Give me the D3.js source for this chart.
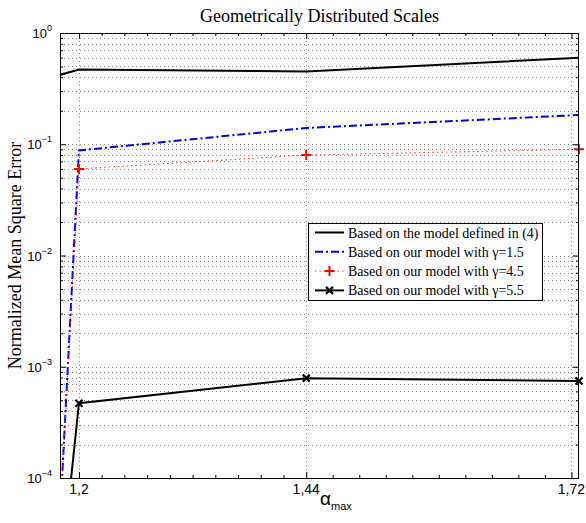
<!DOCTYPE html>
<html>
<head>
<meta charset="UTF-8">
<title>Geometrically Distributed Scales</title>
<script src="https://d3js.org/d3.v7.min.js"></script>
<style>
  body { margin: 0; background: #fff; }
  svg { display: block; }
  .serif { font-family: "Liberation Serif", "Times New Roman", serif; }
  .sans { font-family: "Liberation Sans", Arial, sans-serif; }
</style>
</head>
<body>
<div id="chart"></div>
<script>
// data
var alphaMax = [1.18, 1.2, 1.44, 1.728];
var modelRef = [0.42, 0.47, 0.45, 0.6];          // model defined in (4)
var gamma15 = [4.3e-5, 0.088, 0.14, 0.183];
var gamma45 = [4.5e-5, 0.06, 0.08, 0.09];
var gamma55 = [1.1e-5, 4.7e-4, 7.9e-4, 7.45e-4];

var xTicks = [1.2, 1.44, 1.72];
var xTickLabels = ["1,2", "1,44", "1,72"];
var yDecades = [1e-4, 1e-3, 1e-2, 1e-1, 1e0];
var yExponents = ["\u22124", "\u22123", "\u22122", "\u22121", "0"];
var legendLabels = [
  "Based on the model defined in (4)",
  "Based on our model with \u03b3=1.5",
  "Based on our model with \u03b3=4.5",
  "Based on our model with \u03b3=5.5"
];

var W = 586, H = 523;
var margin = { top: 33, right: 7, bottom: 45, left: 60 };
var width = W - margin.left - margin.right;
var height = H - margin.top - margin.bottom;

var svg = d3.select("#chart").append("svg")
  .attr("width", W).attr("height", H);

var g = svg.append("g")
  .attr("transform", "translate(" + margin.left + "," + margin.top + ")");

var x = d3.scaleLinear().domain([1.18, 1.728]).range([0, width]);
var y = d3.scaleLog().domain([1e-4, 1]).range([height, 0]);

// minor values
var yMinor = [];
yDecades.slice(0, -1).forEach(function (d) {
  for (var k = 2; k <= 9; k++) yMinor.push(d * k);
});
var xMinor = [];
for (var i = 1; i < 10; i++) xMinor.push(1.2 + 0.024 * i);
for (var j = 1; j < 10; j++) xMinor.push(1.44 + 0.028 * j);

// grid
var grid = g.append("g").attr("stroke", "#888").attr("stroke-width", 1)
  .attr("stroke-dasharray", "1,3");
grid.selectAll(".hg").data(yMinor.concat(yDecades.slice(1, -1))).enter()
  .append("line")
  .attr("x1", 0).attr("x2", width)
  .attr("y1", function (d) { return Math.round(y(d)) + 0.5; })
  .attr("y2", function (d) { return Math.round(y(d)) + 0.5; });
grid.selectAll(".vg").data(xTicks).enter()
  .append("line")
  .attr("y1", 0).attr("y2", height)
  .attr("x1", function (d) { return Math.round(x(d)) + 0.5; })
  .attr("x2", function (d) { return Math.round(x(d)) + 0.5; });

// ticks (inward) on all four sides
function axisStyle(sel) {
  sel.select(".domain").remove();
  sel.selectAll(".tick line").attr("stroke", "#000");
  sel.selectAll(".tick text").remove();
}
g.append("g").attr("transform", "translate(0," + height + ")")
  .call(d3.axisBottom(x).tickValues(xTicks).tickSize(-6)).call(axisStyle);
g.append("g").attr("transform", "translate(0," + height + ")")
  .call(d3.axisBottom(x).tickValues(xMinor).tickSize(-3)).call(axisStyle);
g.append("g")
  .call(d3.axisTop(x).tickValues(xTicks).tickSize(-6)).call(axisStyle);
g.append("g")
  .call(d3.axisTop(x).tickValues(xMinor).tickSize(-3)).call(axisStyle);
g.append("g")
  .call(d3.axisLeft(y).tickValues(yDecades).tickSize(-6)).call(axisStyle);
g.append("g")
  .call(d3.axisLeft(y).tickValues(yMinor).tickSize(-3)).call(axisStyle);
g.append("g").attr("transform", "translate(" + width + ",0)")
  .call(d3.axisRight(y).tickValues(yDecades).tickSize(-6)).call(axisStyle);
g.append("g").attr("transform", "translate(" + width + ",0)")
  .call(d3.axisRight(y).tickValues(yMinor).tickSize(-3)).call(axisStyle);

// clip for data
g.append("clipPath").attr("id", "clip").append("rect")
  .attr("width", width).attr("height", height);
var plot = g.append("g").attr("clip-path", "url(#clip)");

function pts(vals) {
  return alphaMax.map(function (a, i) { return [a, vals[i]]; });
}
var line = d3.line().x(function (d) { return x(d[0]); }).y(function (d) { return y(d[1]); });

var series = [
  { vals: modelRef, color: "#000", width: 2, dash: null, marker: null },
  { vals: gamma15, color: "#0000ff", width: 2, dash: "8,3,2,3", marker: null },
  { vals: gamma45, color: "#ff3030", width: 1, dash: "1.5,3", marker: "plus" },
  { vals: gamma55, color: "#000", width: 2, dash: null, marker: "cross" }
];

function drawMarker(sel, type, color, cx, cy) {
  if (type === "plus") {
    sel.append("path")
      .attr("d", "M" + (cx - 5) + "," + cy + "H" + (cx + 5) + "M" + cx + "," + (cy - 5) + "V" + (cy + 5))
      .attr("stroke", "#ff0000").attr("stroke-width", 2).attr("fill", "none");
  } else if (type === "cross") {
    sel.append("path")
      .attr("d", "M" + (cx - 3.5) + "," + (cy - 3.5) + "L" + (cx + 3.5) + "," + (cy + 3.5) +
        "M" + (cx - 3.5) + "," + (cy + 3.5) + "L" + (cx + 3.5) + "," + (cy - 3.5))
      .attr("stroke", color).attr("stroke-width", 2.2).attr("fill", "none");
  }
}

series.forEach(function (s) {
  plot.append("path")
    .datum(pts(s.vals))
    .attr("d", line)
    .attr("fill", "none")
    .attr("stroke", s.color)
    .attr("stroke-width", s.width)
    .attr("stroke-dasharray", s.dash);
});
series.forEach(function (s) {
  if (!s.marker) return;
  pts(s.vals).forEach(function (p) {
    if (p[1] < 1e-4) return;
    drawMarker(g, s.marker, s.color, x(p[0]), y(p[1]));
  });
});

// frame
g.append("rect").attr("x", 0.5).attr("y", 0.5)
  .attr("width", width - 1).attr("height", height)
  .attr("fill", "none").attr("stroke", "#000").attr("stroke-width", 1);

// x tick labels
g.selectAll(".xl").data(xTicks).enter().append("text")
  .attr("class", "sans")
  .attr("x", function (d) { return x(d); })
  .attr("y", height + 16)
  .attr("text-anchor", "middle")
  .attr("font-size", 14)
  .text(function (d, i) { return xTickLabels[i]; });

// y tick labels 10^n
yDecades.forEach(function (d, i) {
  var t = g.append("text").attr("class", "sans")
    .attr("x", -8).attr("y", y(d) + 5)
    .attr("text-anchor", "end").attr("font-size", 13);
  t.append("tspan").text("10");
  t.append("tspan").attr("dy", -7).attr("font-size", 9).text(yExponents[i]);
});

// title and axis labels
svg.append("text").attr("class", "serif")
  .attr("x", margin.left + width / 2).attr("y", 22)
  .attr("text-anchor", "middle").attr("font-size", 18)
  .text("Geometrically Distributed Scales");

svg.append("text").attr("class", "serif")
  .attr("transform", "translate(21," + (margin.top + height / 2) + ") rotate(-90)")
  .attr("text-anchor", "middle").attr("font-size", 18)
  .text("Normalized Mean Square Error");

var xl = svg.append("text").attr("class", "sans")
  .attr("x", 320).attr("y", 505)
  .attr("font-size", 19);
xl.append("tspan").text("\u03b1");
xl.append("tspan").attr("dy", 5).attr("font-size", 11).text("max");

// legend
var lg = svg.append("g").attr("transform", "translate(308,223)");
lg.append("rect").attr("x", 0.5).attr("y", 0.5).attr("width", 234).attr("height", 77)
  .attr("fill", "#fff").attr("stroke", "#000").attr("stroke-width", 1);
series.forEach(function (s, i) {
  var ry = 9.5 + i * 19.3;
  lg.append("line").attr("x1", 7).attr("x2", 36).attr("y1", ry).attr("y2", ry)
    .attr("stroke", s.color).attr("stroke-width", s.width)
    .attr("stroke-dasharray", s.dash);
  drawMarker(lg, s.marker, s.color, 21.5, ry);
  lg.append("text").attr("class", "serif")
    .attr("x", 40).attr("y", ry + 5)
    .attr("font-size", 14)
    .text(legendLabels[i]);
});
</script>
</body>
</html>
